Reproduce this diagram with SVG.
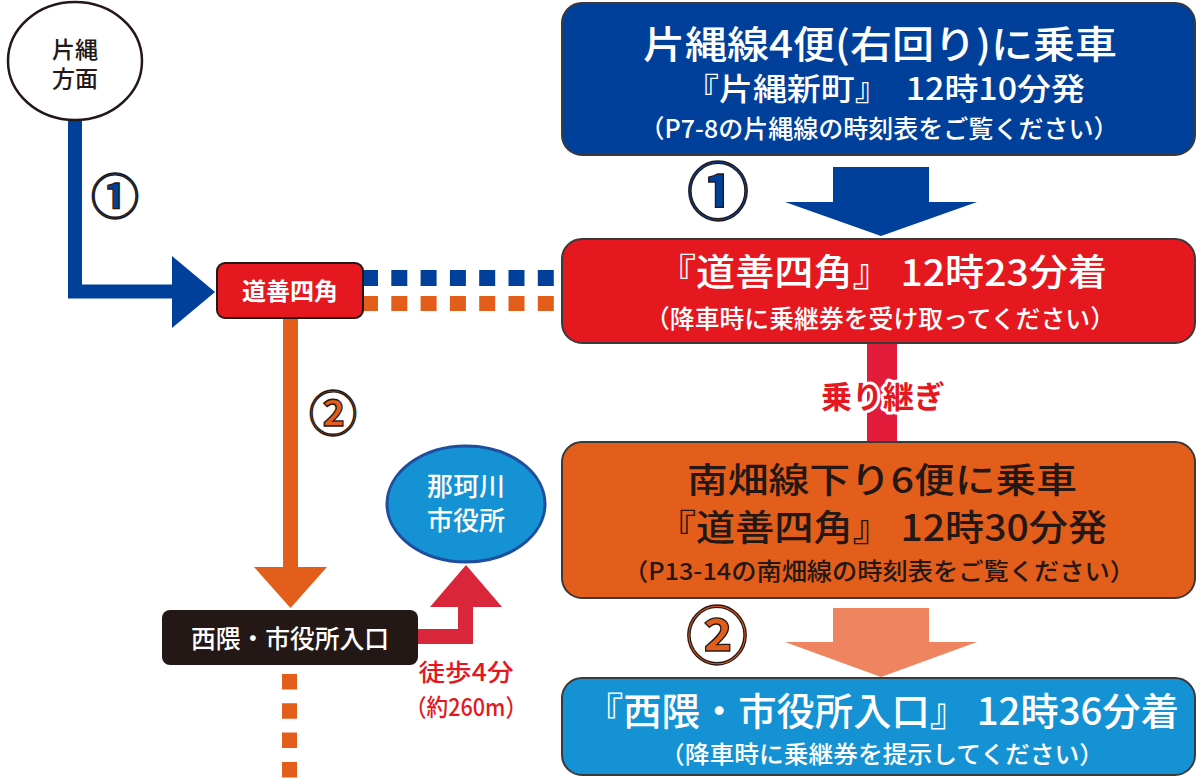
<svg xmlns="http://www.w3.org/2000/svg" width="1197" height="782" viewBox="0 0 1197 782">
<style>
text{font-family:"Noto Sans CJK JP","Noto Sans",sans-serif;text-anchor:middle;font-weight:500}
.w{fill:#ffffff}
.d{fill:#231815}
.b{font-weight:bold}
.box{stroke:#3a3a3a;stroke-width:2}
.num{stroke:#231815;stroke-width:1.3;font-weight:bold}
</style>
<rect width="1197" height="782" fill="#ffffff"/>
<g id="connectors">
  <path d="M75,120 V291.5 H176" fill="none" stroke="#00409a" stroke-width="14"/>
  <polygon points="172,256 215,292 172,328" fill="#00409a"/>
  <line x1="362" y1="278" x2="554" y2="278" stroke="#00409a" stroke-width="16" stroke-dasharray="16 13.3"/>
  <line x1="362" y1="303.5" x2="554" y2="303.5" stroke="#e35d1b" stroke-width="15" stroke-dasharray="16 13.3"/>
  <line x1="290.5" y1="318" x2="290.5" y2="570" stroke="#e35d1b" stroke-width="15"/>
  <polygon points="254,567 327,567 290.5,608" fill="#e35d1b"/>
  <line x1="289.5" y1="674" x2="289.5" y2="782" stroke="#e35d1b" stroke-width="15" stroke-dasharray="15.5 13.8"/>
  <path d="M418,629 H458 V605 H473 V644 H418 Z" fill="#d9263a"/>
  <polygon points="430,607 502,607 466,565" fill="#d9263a"/>
  <rect x="867" y="342" width="30" height="100" fill="#e21b3a"/>
  <polygon points="833,167 929,167 929,202 977,202 881,236 785,202 833,202" fill="#00409a"/>
  <polygon points="833,608 929,608 929,642 977,642 881,677 785,642 833,642" fill="#ef8560"/>
  <text x="115" y="214" font-size="48" fill="#00409a" class="num">①</text>
  <text x="333" y="431" font-size="48" fill="#e35d1b" class="num">②</text>
  <text x="718" y="215" font-size="62" fill="#00409a" class="num">①</text>
  <text x="717" y="659" font-size="62" fill="#e35d1b" class="num">②</text>
  <text x="883" y="408" font-size="31" fill="#e5171f" stroke="#ffffff" stroke-width="6" stroke-linejoin="round" paint-order="stroke" class="b">乗り継ぎ</text>
  <text x="466" y="681" font-size="24" fill="#e5171f" textLength="95" lengthAdjust="spacingAndGlyphs">徒歩4分</text>
  <text x="466" y="716" font-size="24" fill="#e5171f" textLength="122" lengthAdjust="spacingAndGlyphs">（約260m）</text>
</g>
<g id="node-katana">
  <ellipse cx="75" cy="61" rx="67" ry="59" fill="#ffffff" stroke="#231815" stroke-width="2.5"/>
  <text font-size="23" class="d"><tspan x="75" y="58">片縄</tspan><tspan x="75" y="87">方面</tspan></text>
</g>
<g id="node-dozen">
  <rect x="217" y="263" width="146" height="55" rx="8" fill="#e5171f" stroke="#231815" stroke-width="2"/>
  <text x="290" y="300" font-size="24" class="w b">道善四角</text>
</g>
<g id="node-nishikuma">
  <rect x="162" y="610" width="256" height="55" rx="8" fill="#231815"/>
  <text x="290" y="648" font-size="25" class="w" textLength="198" lengthAdjust="spacingAndGlyphs">西隈・市役所入口</text>
</g>
<g id="node-cityhall">
  <ellipse cx="466" cy="504" rx="79" ry="58" fill="#1592d3" stroke="#1f4e9e" stroke-width="3"/>
  <text font-size="26" class="w"><tspan x="466" y="496">那珂川</tspan><tspan x="466" y="530">市役所</tspan></text>
</g>
<g id="node-step1">
  <rect x="562" y="3" width="633" height="152" rx="20" fill="#00409a" class="box"/>
  <text x="880" y="58" font-size="38" class="w" textLength="474" lengthAdjust="spacingAndGlyphs">片縄線4便(右回り)に乗車</text>
  <text x="885" y="100" font-size="31" class="w" textLength="400" lengthAdjust="spacingAndGlyphs">『片縄新町』　12時10分発</text>
  <text x="879" y="138" font-size="25" class="w" textLength="479" lengthAdjust="spacingAndGlyphs">（P7-8の片縄線の時刻表をご覧ください）</text>
</g>
<g id="node-arrive1">
  <rect x="562" y="239" width="633" height="104" rx="20" fill="#e5171f" class="box"/>
  <text x="882" y="286" font-size="37" class="w" textLength="450" lengthAdjust="spacingAndGlyphs">『道善四角』 12時23分着</text>
  <text x="880" y="328" font-size="25" class="w" textLength="470" lengthAdjust="spacingAndGlyphs">（降車時に乗継券を受け取ってください）</text>
</g>
<g id="node-step2">
  <rect x="562" y="442" width="633" height="156" rx="20" fill="#e35d1b" class="box"/>
  <text x="882" y="493" font-size="35" class="d" textLength="390" lengthAdjust="spacingAndGlyphs">南畑線下り6便に乗車</text>
  <text x="882" y="541" font-size="36" class="d" textLength="450" lengthAdjust="spacingAndGlyphs">『道善四角』 12時30分発</text>
  <text x="879" y="580" font-size="24" class="d" textLength="512" lengthAdjust="spacingAndGlyphs">（P13-14の南畑線の時刻表をご覧ください）</text>
</g>
<g id="node-arrive2">
  <rect x="562" y="678" width="633" height="97" rx="20" fill="#1592d3" class="box"/>
  <text x="882" y="725" font-size="38" class="w" textLength="594" lengthAdjust="spacingAndGlyphs">『西隈・市役所入口』 12時36分着</text>
  <text x="882" y="763" font-size="24" class="w" textLength="444" lengthAdjust="spacingAndGlyphs">（降車時に乗継券を提示してください）</text>
</g>
</svg>
